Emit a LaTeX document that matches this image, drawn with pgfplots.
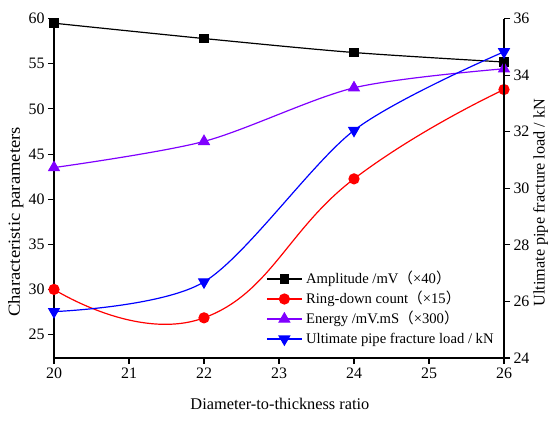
\documentclass[border=0pt]{standalone}
\usepackage{fontspec}
\setmainfont{Liberation Serif}
\newfontfamily\cjk{Noto Sans CJK SC}
\usepackage{pgfplots}
\pgfplotsset{compat=1.18}
\definecolor{cpurple}{RGB}{128,0,255}
\newcommand{\lp}{{\cjk （}}
\newcommand{\rp}{{\cjk ）}}
\begin{document}
\begin{tikzpicture}
\useasboundingbox (-54bp,-63bp) rectangle (496bp,358bp);
\begin{axis}[
  at={(0,0)}, anchor=south west,
  scale only axis, width=450bp, height=339.3bp,
  xmin=20, xmax=26, ymin=22.4, ymax=60,
  axis x line*=bottom, axis y line*=left,
  axis line style={line width=1.2bp, -},
  xtick={20,21,22,23,24,25,26},
  ytick={25,30,35,40,45,50,55,60},
  tick align=outside, major tick length=6bp,
  tick style={line width=1.1bp, black},
  /pgf/number format/assume math mode=true,
  tick label style={font=\fontsize{16}{19}\selectfont},
  xlabel={Diameter-to-thickness ratio},
  xlabel style={font=\fontsize{16.4}{19}\selectfont, at={(axis description cs:0.502,-0.153)}, anchor=base},
  ylabel={\scalebox{1.1}[1]{Characteristic parameters}},
  ylabel style={font=\fontsize{17}{19}\selectfont, at={(axis description cs:-0.085,0.401)}, anchor=center},
  clip=false,
  legend style={draw=none, fill=none, inner sep=0pt, at={(axis description cs:0.4713,0.254)}, anchor=north west,
    font=\fontsize{14.7}{16}\selectfont, row sep=6bp,
    nodes={inner sep=0pt, text height=11bp, text depth=3bp}},
  legend cell align=left,
  legend image code/.code={\draw[mark repeat=2,mark phase=2,#1] plot coordinates {(0bp,0bp) (17.5bp,0bp) (35bp,0bp)};},
  every axis plot/.append style={line width=1.2bp},
]
\addplot[black, smooth, mark=square*, mark size=4.2bp, mark options={solid}] coordinates {(20,59.5) (22,57.8) (24,56.25) (26,55.2)};
\addlegendentry{\ Amplitude /mV\lp×40\rp}
\addplot[red, smooth, tension=0.8, mark=*, mark size=5bp] coordinates {(20,30.0) (22,26.85) (24,42.25) (26,52.15)};
\addlegendentry{\ Ring-down count\lp×15\rp}
\addplot[cpurple, smooth, mark=triangle*, mark size=6bp] coordinates {(20,43.5) (22,46.4) (24,52.34) (26,54.45)};
\addlegendentry{\ Energy /mV.mS\lp×300\rp}
\addlegendimage{blue, line width=1.2bp, mark=triangle*, mark size=6bp, mark options={rotate=180}}
\addlegendentry{\ Ultimate pipe fracture load / kN}
\end{axis}
\begin{axis}[
  at={(0,0)}, anchor=south west,
  scale only axis, width=450bp, height=339.3bp,
  xmin=20, xmax=26, ymin=24, ymax=36,
  axis x line=none, axis y line*=right,
  axis line style={line width=1.2bp, -},
  ytick={24,26,28,30,32,34,36},
  tick align=outside, major tick length=6bp,
  tick style={line width=1.1bp, black},
  /pgf/number format/assume math mode=true,
  tick label style={font=\fontsize{16}{19}\selectfont},
  ylabel={Ultimate pipe fracture load / kN},
  ylabel style={font=\fontsize{16.3}{19}\selectfont, at={(axis description cs:1.0816,0.458)}, anchor=center, rotate=0},
  clip=false,
]
\addplot[blue, smooth, line width=1.2bp, mark=triangle*, mark size=6bp, mark options={rotate=180}] coordinates {(20,25.64) (22,26.69) (24,32.05) (26,34.83)};
\end{axis}
\end{tikzpicture}
\end{document}
